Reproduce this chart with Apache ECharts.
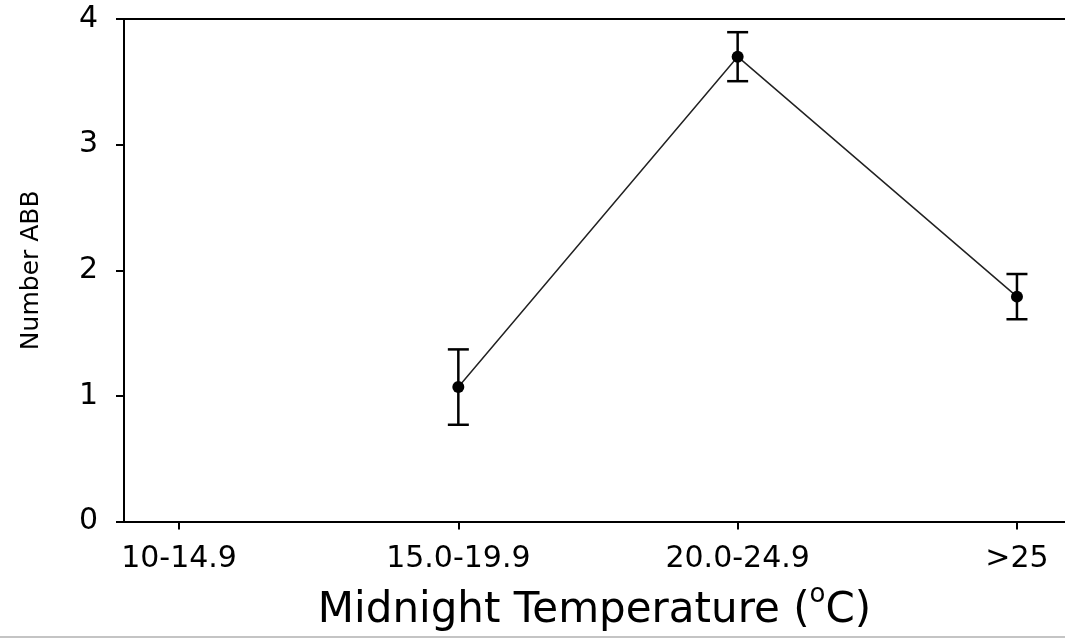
<!DOCTYPE html>
<html>
<head>
<meta charset="utf-8">
<script src="https://cdn.jsdelivr.net/npm/echarts@6/dist/echarts.min.js"></script>
<style>
html,body{margin:0;padding:0;background:#fff;}
#chart{width:1065px;height:639px;}
</style>
</head>
<body>
<div id="chart"></div>
<script>
const categories = ['10-14.9', '15.0-19.9', '20.0-24.9', '>25'];
const means = [null, 1.07, 3.70, 1.79];
const errors = [null, 0.30, 0.195, 0.18];
const yTicks = [0, 1, 2, 3, 4];

const FONT = 'DejaVu Sans';
const pointData = [];
const errData = [];
categories.forEach((c, i) => {
  if (means[i] != null) {
    pointData.push([i, means[i]]);
    errData.push([i, means[i] - errors[i], means[i] + errors[i]]);
  }
});

const chart = echarts.init(document.getElementById('chart'));
const xMin = -0.197, xMax = 3.172;
chart.setOption({
  animation: false,
  backgroundColor: '#fff',
  grid: { left: 124, right: 0, top: 19, bottom: 117.5 },
  xAxis: [{
    type: 'value',
    min: xMin, max: xMax,
    name: '{m|Midnight Temperature (}{sup|o}{m|C)}',
    nameLocation: 'middle',
    nameGap: 61,
    nameTextStyle: {
      fontFamily: FONT, fontSize: 42, color: '#000',
      rich: {
        m: { fontFamily: FONT, fontSize: 42, color: '#000', lineHeight: 50, verticalAlign: 'bottom' },
        sup: { fontFamily: FONT, fontSize: 26, color: '#000', lineHeight: 26, verticalAlign: 'top' }
      }
    },
    axisLine: { show: true, onZero: false, lineStyle: { color: '#000', width: 2 } },
    axisTick: { show: true, length: 8, inside: false, customValues: [0, 1, 2, 3], lineStyle: { color: '#000', width: 2 } },
    axisLabel: {
      customValues: [0, 1, 2, 3],
      formatter: v => categories[Math.round(v)],
      fontFamily: FONT, fontSize: 30, color: '#000', margin: 23
    },
    splitLine: { show: false }
  }, {
    type: 'value',
    position: 'top',
    min: xMin, max: xMax,
    axisLine: { show: true, onZero: false, lineStyle: { color: '#000', width: 2 } },
    axisTick: { show: false }, axisLabel: { show: false }, splitLine: { show: false }
  }],
  yAxis: {
    type: 'value',
    min: 0, max: 4, interval: 1,
    name: 'Number ABB',
    nameLocation: 'middle',
    nameRotate: 90,
    nameGap: 80,
    nameTextStyle: { fontFamily: FONT, fontSize: 25, color: '#000' },
    axisLine: { show: true, onZero: false, lineStyle: { color: '#000', width: 2 } },
    axisTick: { show: true, length: 8, lineStyle: { color: '#000', width: 2 } },
    axisLabel: {
      formatter: v => yTicks.includes(v) ? String(v) : '',
      fontFamily: FONT, fontSize: 30, color: '#000', margin: 26
    },
    splitLine: { show: false }
  },
  graphic: [{
    type: 'rect', shape: { x: 0, y: 636, width: 1065, height: 2 },
    style: { fill: '#c4c4c4' }, silent: true
  }],
  series: [{
    type: 'line',
    data: pointData,
    symbol: 'circle',
    symbolSize: 12,
    itemStyle: { color: '#000' },
    lineStyle: { color: '#222', width: 1.5 },
    z: 3
  }, {
    type: 'custom',
    data: errData,
    renderItem: function (params, api) {
      const x = api.value(0);
      const lo = api.coord([x, api.value(1)]);
      const hi = api.coord([x, api.value(2)]);
      const hw = 10.5;
      const style = { stroke: '#000', lineWidth: 2.5 };
      return {
        type: 'group',
        children: [
          { type: 'line', shape: { x1: lo[0], y1: lo[1], x2: hi[0], y2: hi[1] }, style },
          { type: 'line', shape: { x1: lo[0] - hw, y1: lo[1], x2: lo[0] + hw, y2: lo[1] }, style },
          { type: 'line', shape: { x1: hi[0] - hw, y1: hi[1], x2: hi[0] + hw, y2: hi[1] }, style }
        ]
      };
    },
    z: 2
  }]
});
</script>
</body>
</html>
